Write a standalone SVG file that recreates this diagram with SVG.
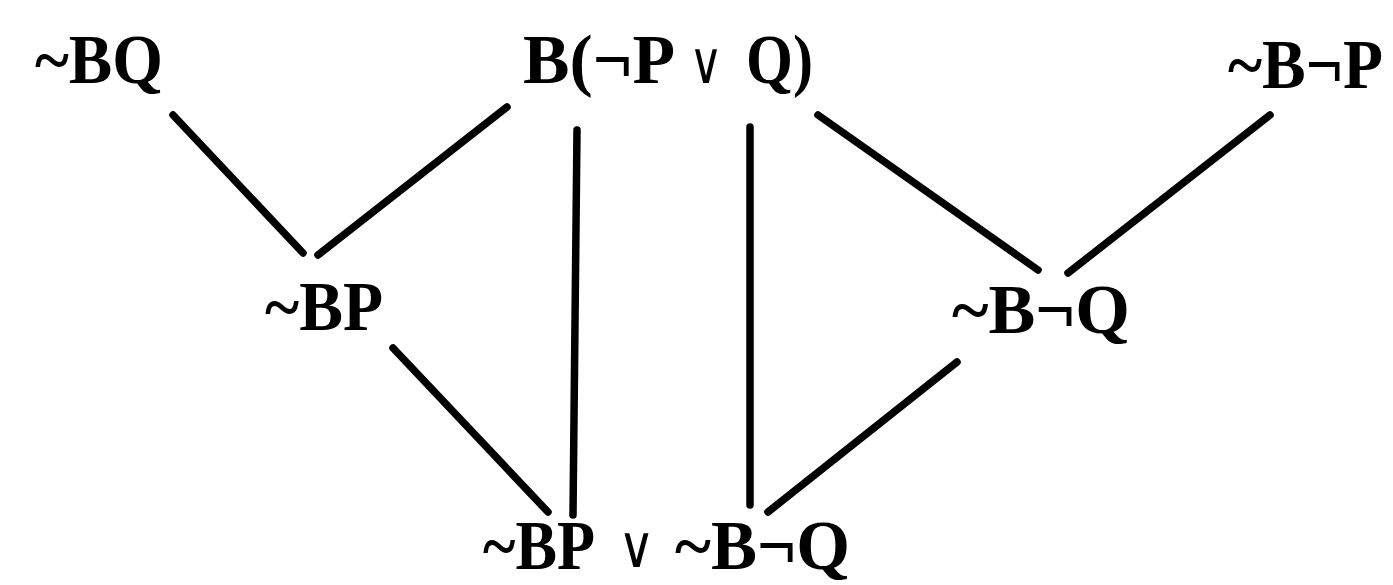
<svg xmlns="http://www.w3.org/2000/svg" width="1393" height="585" viewBox="0 0 1393 585">
<style>
.lbl{font-family:"Liberation Serif","DejaVu Serif",serif;font-weight:bold;font-size:70px;fill:#000}
.or{font-family:"DejaVu Serif",serif;font-weight:normal;font-size:58px;fill:#000}
.edge{stroke:#000;stroke-width:7.5;stroke-linecap:round;fill:none}
</style>
<rect width="1393" height="585" fill="#fff"/>
<g id="connectors">
<line class="edge" x1="173" y1="115" x2="303" y2="253"/>
<line class="edge" x1="507" y1="107" x2="318" y2="255"/>
<line class="edge" x1="577" y1="130" x2="573" y2="515"/>
<line class="edge" x1="750" y1="127" x2="750" y2="505"/>
<line class="edge" x1="818" y1="115" x2="1038" y2="270"/>
<line class="edge" x1="1270" y1="115" x2="1068" y2="273"/>
<line class="edge" x1="393" y1="348" x2="548" y2="512"/>
<line class="edge" x1="957" y1="362" x2="768" y2="512"/>
</g>
<g id="n-BQ"><text class="lbl" x="35" y="83" textLength="128" lengthAdjust="spacingAndGlyphs">~BQ</text></g>
<g id="n-BnPvQ">
<text class="lbl" x="523" y="83" textLength="152" lengthAdjust="spacingAndGlyphs">B(¬P</text>
<text class="or" x="689" y="83" textLength="34" lengthAdjust="spacingAndGlyphs">∨</text>
<text class="lbl" x="746" y="83" textLength="67" lengthAdjust="spacingAndGlyphs">Q)</text>
</g>
<g id="n-BnP"><text class="lbl" x="1228" y="88" textLength="155" lengthAdjust="spacingAndGlyphs">~B¬P</text></g>
<g id="n-BP"><text class="lbl" x="265" y="330" textLength="118" lengthAdjust="spacingAndGlyphs">~BP</text></g>
<g id="n-BnQ"><text class="lbl" x="952" y="333" textLength="178" lengthAdjust="spacingAndGlyphs">~B¬Q</text></g>
<g id="n-bottom">
<text class="lbl" x="483" y="569" font-size="64" textLength="112" lengthAdjust="spacingAndGlyphs">~BP</text>
<text class="or" x="618" y="567" textLength="37" lengthAdjust="spacingAndGlyphs">∨</text>
<text class="lbl" x="675" y="569" font-size="64" textLength="175" lengthAdjust="spacingAndGlyphs">~B¬Q</text>
</g>
</svg>
